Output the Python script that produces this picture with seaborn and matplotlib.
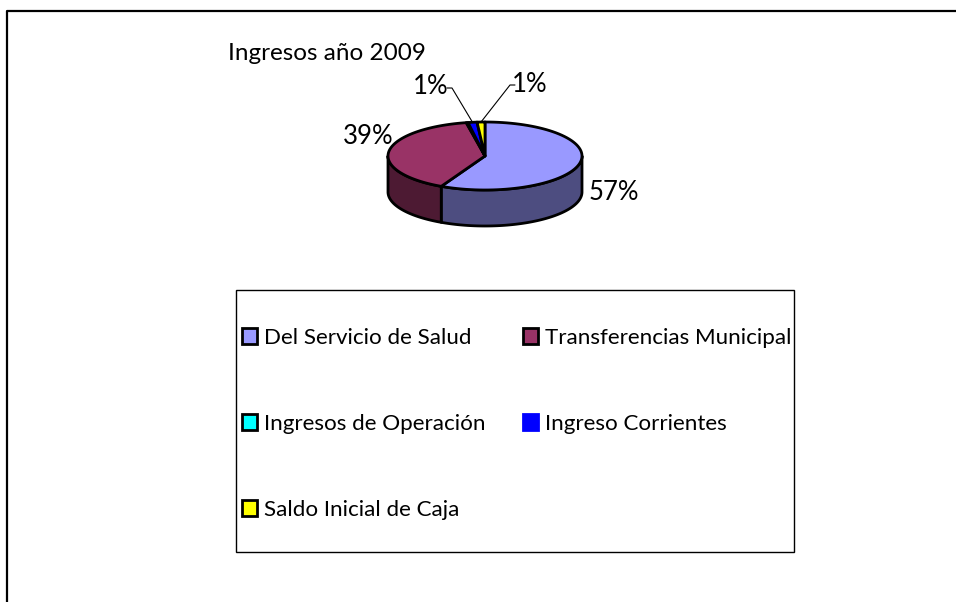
import numpy as np
import matplotlib.pyplot as plt
from matplotlib.patches import Polygon, Patch, Rectangle
import seaborn as sns

# datos
categorias = ["Del Servicio de Salud", "Transferencias Municipal",
              "Ingresos de Operación", "Ingreso Corrientes", "Saldo Inicial de Caja"]
porcentajes = [57.45, 39.45, 0.3, 1.49, 1.31]
etiquetas = ["57%", "39%", "", "1%", "1%"]
colores = ["#9999FF", "#993366", "#00FFFF", "#0000FF", "#FFFF00"]
titulo = "Ingresos año 2009"

sns.set_theme(style="white")
plt.rcParams["font.family"] = ["Lato", "DejaVu Sans"]
plt.rcParams["text.color"] = "black"

paleta = sns.color_palette(colores)
oscuro = [tuple(c * 0.5 for c in col) for col in paleta]

fig = plt.figure(figsize=(9.56, 6.02), dpi=100)
ax = fig.add_axes([0, 0, 1, 1])
ax.set_xlim(0, 956)
ax.set_ylim(602, 0)
ax.axis("off")

# marco exterior
ax.plot([7.5, 7.5, 956], [602, 10.5, 10.5], color="black", lw=1.6)

# pastel 3D (elipse)
cx, cy, rx, ry, prof = 485, 156, 97, 34, 36


def arco(t1, t2, dy=0, n=80):
    t = np.radians(np.linspace(t1, t2, n))
    return np.column_stack([cx + rx * np.cos(t), cy - ry * np.sin(t) + dy])


frac = np.array(porcentajes) / sum(porcentajes)
limites = 90 - 360 * np.concatenate([[0], np.cumsum(frac)])

# caras laterales (solo la mitad frontal)
for i in range(len(porcentajes)):
    hi, lo = limites[i], limites[i + 1]
    a, b = max(lo, -180), min(hi, 0)
    if b <= a:
        continue
    arriba = arco(b, a)
    abajo = arco(a, b, dy=prof)
    ax.add_patch(Polygon(np.vstack([arriba, abajo]), closed=True,
                         facecolor=oscuro[i], edgecolor="black", lw=2, joinstyle="round"))

# caras superiores
for i in range(len(porcentajes)):
    hi, lo = limites[i], limites[i + 1]
    pts = np.vstack([[cx, cy], arco(hi, lo)])
    ax.add_patch(Polygon(pts, closed=True, facecolor=paleta[i],
                         edgecolor="black", lw=2, joinstyle="round"))

# etiquetas de porcentaje
pos_etiquetas = [(614, 192), (368, 137), None, (431, 87), (530, 85)]
for i, txt in enumerate(etiquetas):
    if not txt:
        continue
    x, y = pos_etiquetas[i]
    ax.text(x, y, txt, fontsize=18.5, ha="center", va="center")
    if i >= 3:
        medio = (limites[i] + limites[i + 1]) / 2
        px, py = arco(medio, medio, n=1)[0]
        if x < cx:
            ax.plot([x + 16, x + 21, px], [y + 1, y + 1, py], color="black", lw=0.8)
        else:
            ax.plot([x - 15, x - 20, px], [y, y, py], color="black", lw=0.8)

ax.text(228, 60, titulo, fontsize=17.5, ha="left", va="baseline")

# leyenda
ax.add_patch(Rectangle((236, 290), 558, 262, fill=False, edgecolor="black", lw=1))
orden = [0, 2, 4, 1, 3]
handles = []
for i in orden:
    borde = paleta[i] if colores[i] == "#0000FF" else "black"
    handles.append(Patch(facecolor=paleta[i], edgecolor=borde, lw=2, label=categorias[i]))
fig.legend(handles=handles, ncol=2, loc="upper left",
           bbox_to_anchor=(242 / 956, 1 - 328 / 602), frameon=False,
           fontsize=16.1, borderpad=0, borderaxespad=0,
           handlelength=0.67, handleheight=0.73, handletextpad=0.33,
           labelspacing=2.95, columnspacing=1.65)

fig.savefig("out.png", dpi=100)
